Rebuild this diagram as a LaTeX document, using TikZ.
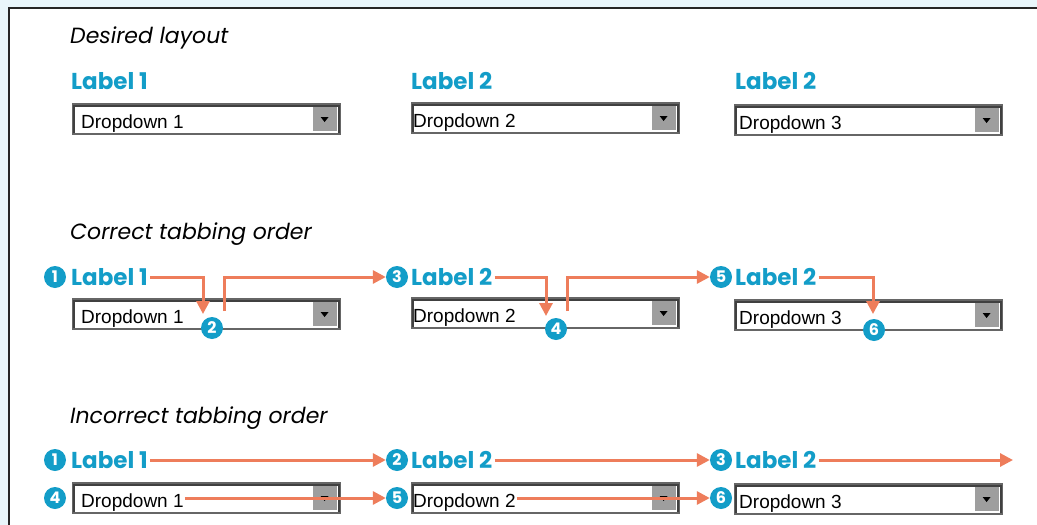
\documentclass[tikz,border=0pt]{standalone}
\usepackage{fontspec}
\setmainfont{Poppins}
\newfontfamily\ddfont{Liberation Sans}
\usetikzlibrary{positioning,arrows.meta}

\definecolor{tabblue}{HTML}{139DC8}
\definecolor{tabarrow}{HTML}{EE7D5B}
\definecolor{pagebg}{HTML}{E9F6FB}

\begin{document}
\begin{tikzpicture}[
    x=1pt, y=-1pt,
    ttl/.style={anchor=west, inner sep=0pt, font=\fontsize{22}{26}\selectfont\itshape},
    lbl/.style={anchor=west, inner sep=2pt, text=tabblue,
        font=\fontsize{23}{27}\selectfont\bfseries},
    num/.style={circle, fill=tabblue, text=white, inner sep=0pt,
        minimum size=22pt, font=\fontsize{16}{18}\selectfont\bfseries},
    dd/.style={rectangle, anchor=west, draw=black!60, line width=1.2pt, fill=white,
        minimum width=268pt, minimum height=30pt, inner sep=0pt,
        path picture={
            \fill[black!38] ([xshift=-28pt,yshift=-3pt]path picture bounding box.north east)
                rectangle ([xshift=-4pt,yshift=3pt]path picture bounding box.south east);
            \fill[black] ([xshift=-20pt,yshift=2pt]path picture bounding box.east)
                -- ++(8pt,0pt) -- ++(-4pt,-5pt) -- cycle;
            \draw[black!75, line width=5pt] (path picture bounding box.south west)
                |- (path picture bounding box.north east)
                -- (path picture bounding box.south east);
        }},
    ddtext/.style={inner sep=1pt, text height=20pt, text depth=2pt,
        font=\ddfont\fontsize{19}{22}\selectfont},
    flow/.style={draw=tabarrow, line width=3pt, -{Triangle[length=13pt,width=13pt]}},
]
    \useasboundingbox (0,0) rectangle (1037,525);
    \fill[pagebg] (0,0) rectangle (1037,525);
    \draw[black!85, line width=1.5pt, fill=white] (9,8) rectangle (1060,545);

    % Desired layout
    \node[ttl] (tla) at (70,38) {Desired layout};
    \node[lbl] (l1a) at (69,81)  {Label 1};
    \node[lbl] (l2a) at (409,81) {Label 2};
    \node[lbl] (l3a) at (733,81) {Label 2};
    \node[dd] (d1a) at (72,119)  {};
    \node[dd] (d2a) at (411,118) {};
    \node[dd] (d3a) at (734,120) {};
    \node[ddtext, right=8pt of d1a.west] (t1a) {Dropdown 1};
    \node[ddtext, right=1pt of d2a.west] (t2a) {Dropdown 2};
    \node[ddtext, right=4pt of d3a.west] (t3a) {Dropdown 3};

    % Correct tabbing order
    \node[ttl] (tlc) at (70,234) {Correct tabbing order};
    \node[num] (n1c) at (55,277) {1};
    \node[lbl] (l1c) at (69,277)  {Label 1};
    \node[num] (n3c) at (397,277) {3};
    \node[lbl] (l2c) at (409,277) {Label 2};
    \node[num] (n5c) at (721,277) {5};
    \node[lbl] (l3c) at (733,277) {Label 2};
    \node[dd] (d1c) at (72,314)  {};
    \node[dd] (d2c) at (411,313) {};
    \node[dd] (d3c) at (734,315) {};
    \node[ddtext, right=8pt of d1c.west] (t1c) {Dropdown 1};
    \node[ddtext, right=1pt of d2c.west] (t2c) {Dropdown 2};
    \node[ddtext, right=4pt of d3c.west] (t3c) {Dropdown 3};
    \coordinate (in1) at (203,314);
    \coordinate (out1) at (224,311);
    \coordinate (in2) at (546,316);
    \coordinate (out2) at (567,311);
    \coordinate (in3) at (873,314);
    \draw[flow] (l1c.east) -| (in1);
    \draw[flow] (out1) |- (n3c);
    \draw[flow] (l2c.east) -| (in2);
    \draw[flow] (out2) |- (n5c);
    \draw[flow] (l3c.east) -| (in3);
    \node[num] (n2c) at (212,328) {2};
    \node[num] (n4c) at (556,329) {4};
    \node[num] (n6c) at (874,330) {6};

    % Incorrect tabbing order
    \node[ttl] (tlw) at (70,418) {Incorrect tabbing order};
    \node[num] (n1w) at (55,460) {1};
    \node[lbl] (l1w) at (69,460)  {Label 1};
    \node[num] (n2w) at (397,460) {2};
    \node[lbl] (l2w) at (409,460) {Label 2};
    \node[num] (n3w) at (721,460) {3};
    \node[lbl] (l3w) at (733,460) {Label 2};
    \coordinate (endw) at (1013,460);
    \node[num] (n4w) at (55,498) {4};
    \node[dd] (d1w) at (72,498)  {};
    \node[num] (n5w) at (397,498) {5};
    \node[dd] (d2w) at (411,498) {};
    \node[num] (n6w) at (721,498) {6};
    \node[dd] (d3w) at (734,499) {};
    \node[ddtext, right=8pt of d1w.west] (t1w) {Dropdown 1};
    \node[ddtext, right=1pt of d2w.west] (t2w) {Dropdown 2};
    \node[ddtext, right=4pt of d3w.west] (t3w) {Dropdown 3};

    \foreach \a/\b in {l1w/n2w, l2w/n3w, l3w/endw, t1w/n5w, t2w/n6w}
        \draw[flow] (\a.east) -- (\b);
\end{tikzpicture}
\end{document}
